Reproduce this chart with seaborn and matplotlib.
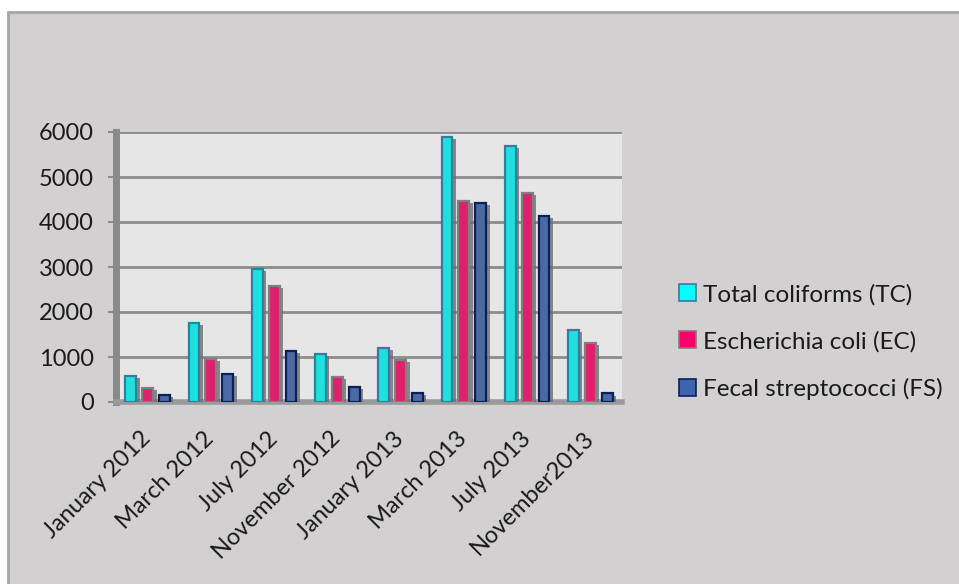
import matplotlib
matplotlib.use("Agg")
import matplotlib.pyplot as plt
import matplotlib.patheffects as pe
from matplotlib.patches import Rectangle, Patch
import pandas as pd
import seaborn as sns

# Sampling dates and bacterial counts
months = ["January 2012", "March 2012", "July 2012", "November 2012",
          "January 2013", "March 2013", "July 2013", "November2013"]
total_coliforms = [580, 1750, 2960, 1070, 1200, 5890, 5680, 1600]
e_coli = [310, 950, 2570, 560, 930, 4460, 4650, 1320]
fecal_strep = [160, 620, 1140, 340, 210, 4430, 4140, 190]
series_names = ["Total coliforms (TC)", "Escherichia coli (EC)", "Fecal streptococci (FS)"]
y_ticks = [0, 1000, 2000, 3000, 4000, 5000, 6000]

df = pd.DataFrame({
    "month": months * 3,
    "count": total_coliforms + e_coli + fecal_strep,
    "group": [series_names[0]] * 8 + [series_names[1]] * 8 + [series_names[2]] * 8,
})

fills = ["#00ffff", "#ff0066", "#3c64b0"]
edges = ["#2e7fa0", "#7f7f7f", "#0c1f5c"]
bg = "#d2d0d1"

sns.set_theme(style="white")
plt.rcParams["font.family"] = ["Lato", "DejaVu Sans"]

fig = plt.figure(figsize=(9.59, 5.84), dpi=100)
fig.patch.set_facecolor("white")
# chart frame
frame = Rectangle((8 / 959, -0.02), 1.1, (584 - 12) / 584 + 0.02,
                  transform=fig.transFigure, facecolor=bg,
                  edgecolor="#a6a6a6", linewidth=2, zorder=-5)
fig.add_artist(frame)

ax = fig.add_axes([116 / 959, (584 - 402) / 584, (622 - 116) / 959, (402 - 132) / 584])
ax.set_facecolor("#e6e6e6")

sns.barplot(data=df, x="month", y="count", hue="group", order=months,
            hue_order=series_names, palette=fills, width=0.8, gap=0.35,
            ax=ax, legend=False, zorder=3)

for i, container in enumerate(ax.containers):
    for bar in container:
        bar.set_edgecolor(edges[i])
        bar.set_linewidth(1.6)
        bar.set_path_effects([pe.SimplePatchShadow(offset=(2.5, -1.5),
                                                   shadow_rgbFace="#6e6e6e", alpha=0.8),
                              pe.Normal()])

ax.set_ylim(0, 6000)
ax.set_xlim(-0.5, 7.5)
ax.set_yticks(y_ticks)
ax.set_yticklabels([str(v) for v in y_ticks], fontsize=17, color="#1a1a1a")
ax.yaxis.grid(True, color="#8c8c8c", linewidth=2, zorder=0)
ax.set_axisbelow(True)
ax.tick_params(axis="y", left=True, length=6, width=1.5, color="#8c8c8c", pad=10)
ax.tick_params(axis="x", bottom=False, length=0, pad=24)
ax.set_xticks(range(len(months)))
ax.set_xticklabels(months, rotation=45, ha="right", va="center",
                   rotation_mode="anchor", fontsize=17, color="#1a1a1a")
ax.set_xlabel("")
ax.set_ylabel("")

for side in ["top", "right"]:
    ax.spines[side].set_visible(False)
ax.spines["left"].set_color("#8a8a8a")
ax.spines["left"].set_linewidth(5)
ax.spines["bottom"].set_color("#9a9a9a")
ax.spines["bottom"].set_linewidth(4)

# legend
handles = [Patch(facecolor=f, edgecolor=e, linewidth=1.2) for f, e in zip(fills, edges)]
fig.legend(handles, series_names, loc="center left",
           bbox_to_anchor=(657 / 959, 1 - 342 / 584), frameon=False,
           fontsize=17.5, handlelength=0.7, handleheight=0.7, handletextpad=0.3,
           labelspacing=1.05, labelcolor="#1a1a1a")

fig.savefig("out.png", dpi=100, facecolor=fig.get_facecolor())
